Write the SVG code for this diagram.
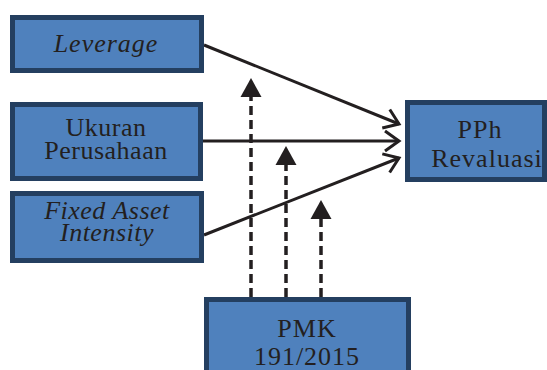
<svg xmlns="http://www.w3.org/2000/svg" width="547" height="370" viewBox="0 0 547 370">
  <defs>
    <marker id="open" viewBox="-16 -12 20 24" markerUnits="userSpaceOnUse" markerWidth="20" markerHeight="24" refX="0" refY="0" orient="auto">
      <path d="M-14,-10 L0,0 L-14,10" fill="none" stroke="#231f20" stroke-width="3"/>
    </marker>
    <marker id="tri" viewBox="0 -11 20 22" markerUnits="userSpaceOnUse" markerWidth="20" markerHeight="22" refX="0" refY="0" orient="auto">
      <path d="M0,-10.5 L19,0 L0,10.5 Z" fill="#231f20"/>
    </marker>
  </defs>
  <style>
    .box { fill: #4f81bd; stroke: #243f60; stroke-width: 5; }
    text { font-family: "Liberation Serif", "DejaVu Serif", "Times New Roman", serif; font-size: 26px; fill: #231f20; text-anchor: middle; }
    .i { font-style: italic; }
    .solid { stroke: #231f20; stroke-width: 3; fill: none; }
    .dash { stroke: #231f20; stroke-width: 3.5; fill: none; stroke-dasharray: 9 5; }
  </style>
  <rect width="547" height="370" fill="#ffffff"/>
  <g id="connectors">
    <line class="solid" x1="204" y1="45" x2="399" y2="124" marker-end="url(#open)"/>
    <line class="solid" x1="203" y1="141" x2="399" y2="141" marker-end="url(#open)"/>
    <line class="solid" x1="204" y1="235" x2="399" y2="158" marker-end="url(#open)"/>
    <line class="dash" x1="251" y1="297" x2="251" y2="97" marker-end="url(#tri)"/>
    <line class="dash" x1="286" y1="297" x2="286" y2="165" marker-end="url(#tri)"/>
    <line class="dash" x1="321" y1="297" x2="321" y2="219" marker-end="url(#tri)"/>
  </g>
  <g id="leverage">
    <rect class="box" x="12.5" y="17.5" width="189" height="53"/>
    <text class="i" x="106" y="52" font-family="Liberation Serif, serif" letter-spacing="1">Leverage</text>
  </g>
  <g id="ukuran">
    <rect class="box" x="12.5" y="104.5" width="188" height="74"/>
    <text x="106" y="136" font-family="Liberation Serif, serif" letter-spacing="0.5">Ukuran</text>
    <text x="106" y="159" font-family="Liberation Serif, serif" letter-spacing="0.5">Perusahaan</text>
  </g>
  <g id="fixed">
    <rect class="box" x="12.5" y="193.5" width="189" height="67"/>
    <text class="i" x="107" y="219" font-family="Liberation Serif, serif" letter-spacing="0.5">Fixed Asset</text>
    <text class="i" x="107" y="241" font-family="Liberation Serif, serif" letter-spacing="0.5">Intensity</text>
  </g>
  <g id="pph">
    <rect class="box" x="407.5" y="102.5" width="137" height="77"/>
    <text x="480" y="138" font-family="Liberation Serif, serif" letter-spacing="1">PPh</text>
    <text x="487" y="167" font-family="Liberation Serif, serif" letter-spacing="1">Revaluasi</text>
  </g>
  <g id="pmk">
    <rect class="box" x="206.5" y="299.5" width="202" height="80"/>
    <text x="307" y="337" font-family="Liberation Serif, serif" letter-spacing="1">PMK</text>
    <text x="307" y="365" font-family="Liberation Serif, serif" letter-spacing="1">191/2015</text>
  </g>
</svg>
